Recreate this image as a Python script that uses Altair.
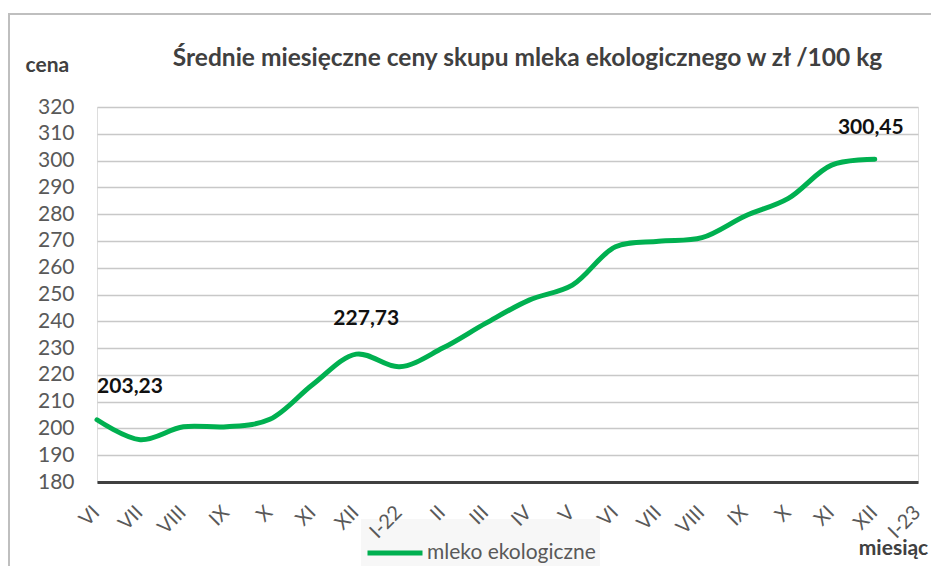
import altair as alt
import pandas as pd

months = ["VI", "VII", "VIII", "IX", "X", "XI", "XII", "I-22", "II", "III", "IV", "V",
          "VI", "VII", "VIII", "IX", "X", "XI", "XII", "I-23"]
prices = [203.23, 195.8, 200.6, 200.6, 203.4, 216.5, 227.73, 223.0, 230.0, 239.3,
          247.9, 253.5, 267.8, 269.9, 271.2, 279.3, 285.9, 298.3, 300.45]
series_name = "mleko ekologiczne"
labelled = [0, 6, 18]
label_texts = ["203,23", "227,73", "300,45"]

FONT = "Lato"
GREEN = "#00b050"

df = pd.DataFrame({
    "idx": list(range(len(prices))),
    "price": prices,
    "series": [series_name] * len(prices),
})
lab_df = pd.DataFrame({
    "idx": labelled,
    "price": [prices[i] for i in labelled],
    "txt": label_texts,
})

label_expr = "[" + ",".join(f"'{m}'" for m in months) + "][datum.value]"

x_enc = alt.X(
    "idx:Q",
    scale=alt.Scale(domain=[0, len(months) - 1], nice=False, zero=False),
    axis=alt.Axis(
        values=list(range(len(months))),
        labelExpr=label_expr,
        labelAngle=-45,
        labelAlign="right",
        labelBaseline="top",
        labelFontSize=20,
        labelColor="#595959",
        labelFont=FONT,
        labelPadding=20,
        labelOffset=-8,
        labelOverlap=False,
        ticks=False,
        grid=False,
        domainColor="#404040",
        domainWidth=3,
        zindex=2,
        title="miesiąc",
        titleFont=FONT,
        titleFontSize=21,
        titleFontWeight="bold",
        titleColor="#404040",
        titleAlign="center",
        titleBaseline="middle",
        titleX=796,
        titleY=66,
    ),
)
y_enc = alt.Y(
    "price:Q",
    scale=alt.Scale(domain=[180, 320], nice=False, zero=False),
    axis=alt.Axis(
        values=list(range(180, 321, 10)),
        labelFontSize=21,
        labelColor="#595959",
        labelFont=FONT,
        labelPadding=23,
        labelOverlap=False,
        ticks=False,
        domain=False,
        gridColor="#c8c8c8",
        gridWidth=1.6,
        title="cena",
        titleAngle=0,
        titleAlign="left",
        titleBaseline="middle",
        titleX=-72,
        titleY=-42,
        titleFont=FONT,
        titleFontSize=21,
        titleFontWeight="bold",
        titleColor="#404040",
    ),
)

line = alt.Chart(df).mark_line(
    interpolate="catmull-rom", strokeWidth=5, strokeCap="round"
).encode(
    x=x_enc,
    y=y_enc,
    color=alt.Color(
        "series:N",
        scale=alt.Scale(range=[GREEN]),
        legend=alt.Legend(
            title=None,
            orient="none",
            legendX=264,
            legendY=412,
            symbolType="stroke",
            symbolSize=3025,
            symbolStrokeWidth=5,
            labelFontSize=21,
            labelColor="#595959",
            labelFont=FONT,
            labelOffset=2,
            labelLimit=400,
            fillColor="#f7f7f7",
            padding=4,
            zindex=0,
        ),
    ),
)

offsets = [(33, -33), (10, -35), (-4, -31)]
texts = []
for (dx, dy), t in zip(offsets, label_texts):
    texts.append(
        alt.Chart(lab_df[lab_df["txt"] == t]).mark_text(
            font=FONT, fontSize=21, fontWeight="bold", color="#111111",
            dx=dx, dy=dy, align="center", baseline="middle",
        ).encode(x=x_enc, y=y_enc, text="txt:N")
    )

# chart-area frame (decoration, like the Excel chart border)
frame_top = alt.Chart(df.head(1)).mark_rule(color="#bfbfbf", strokeWidth=2).encode(
    x=alt.value(-89), x2=alt.value(845), y=alt.value(-93)
)
frame_left = alt.Chart(df.head(1)).mark_rule(color="#bfbfbf", strokeWidth=2).encode(
    x=alt.value(-88), y=alt.value(-93), y2=alt.value(470)
)

chart = alt.layer(frame_top, frame_left, line, *texts).properties(
    width=821,
    height=375,
    padding={"left": 89, "top": 99, "right": 13, "bottom": 84},
    autosize=alt.AutoSizeParams(type="none"),
    title=alt.TitleParams(
        "Średnie miesięczne ceny skupu mleka ekologicznego w zł /100 kg",
        font=FONT,
        fontSize=24.5,
        fontWeight="bold",
        color="#404040",
        anchor="middle",
        dx=20,
        offset=-58,
    ),
).configure_view(stroke=None).configure(background="white")

chart.save("out.html", embed_options={"renderer": "svg", "actions": False})
